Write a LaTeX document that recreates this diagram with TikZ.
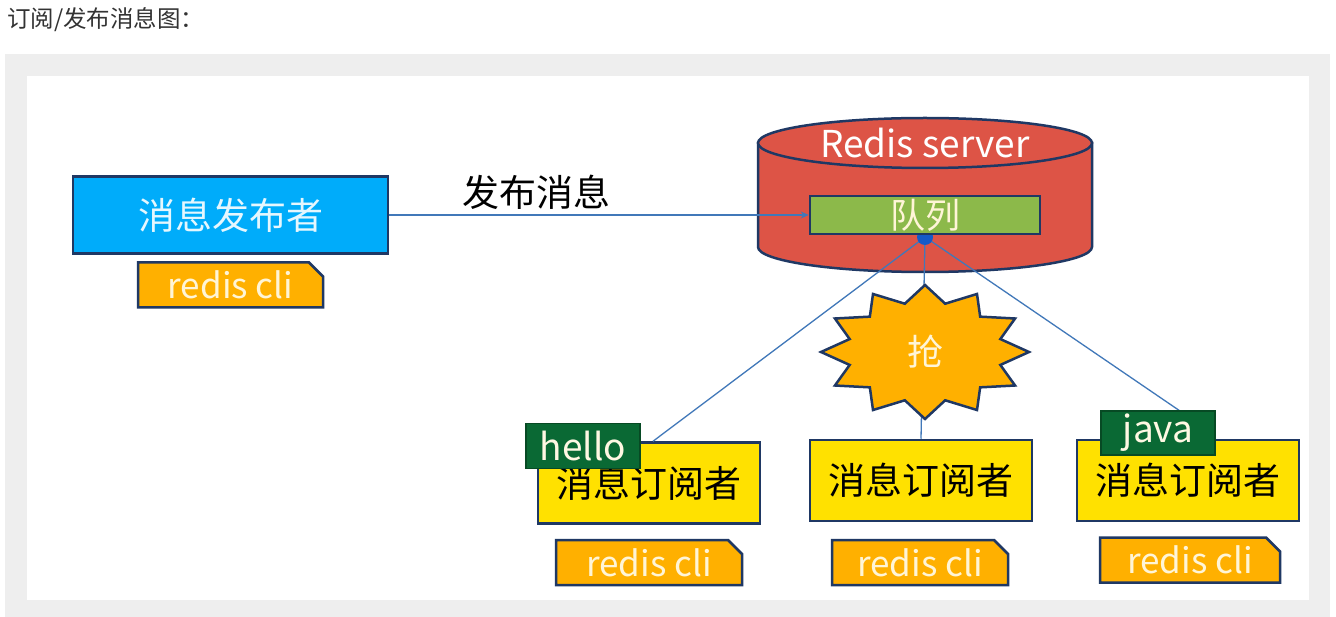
\documentclass[tikz,border=0pt]{standalone}
\usepackage{fontspec}
\setmainfont{Noto Sans CJK SC}
\usetikzlibrary{shapes.geometric, shapes.misc, arrows.meta, positioning}
\definecolor{pagegray}{RGB}{238,238,238}
\definecolor{titlegray}{RGB}{51,51,51}
\definecolor{navyline}{RGB}{31,56,100}
\definecolor{pubblue}{RGB}{0,172,250}
\definecolor{tagorange}{RGB}{255,176,0}
\definecolor{subyellow}{RGB}{255,225,0}
\definecolor{serverred}{RGB}{221,84,70}
\definecolor{queuegreen}{RGB}{140,185,74}
\definecolor{msggreen}{RGB}{10,105,52}
\definecolor{wirecolor}{RGB}{65,120,185}
\definecolor{hubblue}{RGB}{20,90,200}
\definecolor{creamtext}{RGB}{255,245,215}
\tikzset{
  basebox/.style={rectangle, draw=navyline, line width=2.5pt, inner sep=0pt, align=center},
  pubbox/.style={basebox, fill=pubblue, text=white!90!pubblue, minimum width=315pt, minimum height=77pt, font=\fontsize{37}{42}\selectfont},
  subbox/.style={basebox, fill=subyellow, text=black, minimum width=222pt, minimum height=81pt, font=\fontsize{37}{42}\selectfont},
  queuebox/.style={basebox, fill=queuegreen, text=creamtext, minimum width=230pt, minimum height=38pt, font=\fontsize{35}{40}\selectfont},
  clitag/.style={chamfered rectangle, chamfered rectangle corners=north east, chamfered rectangle sep=7pt, draw=navyline, line width=2.5pt, fill=tagorange, text=creamtext, inner sep=0pt, minimum height=45pt, font=\fontsize{35}{40}\selectfont},
  msgtag/.style={rectangle, draw=msggreen!70!black, line width=1.5pt, fill=msggreen, text=creamtext!70!white, inner sep=0pt, minimum width=114pt, minimum height=45pt, font=\fontsize{37}{42}\selectfont},
  wire/.style={draw=wirecolor, line width=1.3pt},
  pubarrow/.style={wire, -{Stealth[length=8pt,width=7pt]}},
  burst/.style={draw=navyline, line width=2.5pt, fill=tagorange, line join=miter}
}

\begin{document}
\begin{tikzpicture}[x=1pt, y=-1pt]
  \useasboundingbox (0,0) rectangle (1336,617);
  % page frame
  \fill[pagegray] (5,54) rectangle (1330,617);
  \fill[white] (27,76) rectangle (1309,600);
  \node[anchor=west, text=titlegray, font=\fontsize{23.5}{27}\selectfont, inner sep=0pt] (title) at (7,20) {订阅/发布消息图：};

  % publisher
  \node[pubbox] (pub) at (230.5,215) {消息发布者};
  \node[clitag, minimum width=185pt] (cli0) at (230.5,285) {redis cli};

  % redis server cylinder
  \draw[fill=serverred, draw=navyline, line width=2.5pt] (758,143) -- (758,247)
    arc[start angle=180, end angle=360, x radius=167pt, y radius=25pt] -- (1092,143) -- cycle;
  \draw[fill=serverred, draw=navyline, line width=2.5pt] (925,143) ellipse [x radius=167pt, y radius=25pt];
  \node[text=white, font=\fontsize{37}{42}\selectfont] (server) at (925,143) {Redis server};
  \coordinate (hub) at (925,237);

  % subscribers
  \node[subbox] (sub1) at (649,483) {消息订阅者};
  \node[subbox] (sub2) at (921,480.5) {消息订阅者};
  \node[subbox] (sub3) at (1188,480.5) {消息订阅者};
  \node[clitag, minimum width=186pt] (cli1) at (649,562.5) {redis cli};
  \node[clitag, minimum width=176pt] (cli2) at (920,562.5) {redis cli};
  \node[clitag, minimum width=180pt] (cli3) at (1190,560) {redis cli};

  % wires from the queue
  \draw[wire] (hub) -- ([xshift=4pt]sub1.north);
  \draw[wire] (hub) -- (sub2.north);
  \draw[wire] (hub) -- ([xshift=-8pt]sub3.north |- 0,411);

  % grab burst
  \draw[burst] plot[samples at={0,...,23}, variable=\k]
    ({925+(91+13*cos(180*\k))*cos(15*\k)}, {352-(58.5+8.5*cos(180*\k))*sin(15*\k)}) -- cycle;
  \node[text=creamtext, font=\fontsize{36}{40}\selectfont] (grab) at (925,352) {抢};

  \fill[hubblue] (hub) circle [radius=8pt];
  \node[queuebox] (queue) at (925,215) {队列};

  % messages
  \node[msgtag] (hello) at (583,446) {hello};
  \node[msgtag, minimum height=44pt] (java) at (1158,433) {java};

  \draw[pubarrow] (pub.east) -- node[above=1pt, pos=0.35, text=black, font=\fontsize{37}{42}\selectfont] {发布消息} (queue.west);
\end{tikzpicture}
\end{document}
